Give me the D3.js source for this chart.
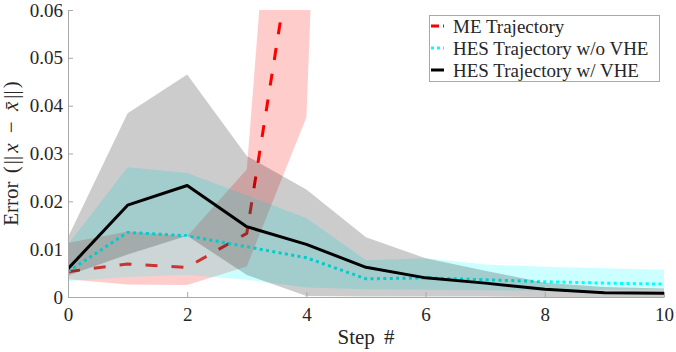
<!DOCTYPE html>
<html>
<head>
<meta charset="utf-8">
<script src="https://cdn.jsdelivr.net/npm/d3@7"></script>
</head>
<body style="margin:0">
<script>
// ---------- data ----------
const steps = [0, 1, 2, 3, 4, 5, 6, 7, 8, 9, 10];
const meSteps = [0, 1, 2, 3, 4, 5];
const meMean  = [0.0053, 0.0069, 0.0062, 0.0133, 0.092, 0.5];
const meLower = [0.0037, 0.0026, 0.0025, 0.0064, 0.0376, 0.36];
const meUpper = [0.0113, 0.0137, 0.0127, 0.0267, 0.186, 0.8];

const woMean  = [0.0053, 0.0135, 0.0128, 0.0105, 0.0082, 0.0038, 0.0040, 0.0036, 0.0032, 0.0029, 0.0027];
const woLower = [0.0033, 0.0042, 0.0046, 0.0036, 0.0020, 0.0016, 0.0015, 0.0014, 0.0013, 0.0015, 0.0016];
const woUpper = [0.0110, 0.0271, 0.0259, 0.0212, 0.0165, 0.0077, 0.0081, 0.0068, 0.0063, 0.0060, 0.0057];

const wMean  = [0.0059, 0.0192, 0.0233, 0.0147, 0.0110, 0.0062, 0.0040, 0.0029, 0.0016, 0.0009, 0.0008];
const wLower = [0.0045, 0.0089, 0.0128, 0.0046, 0.0002, 0.0001, 0.0001, 0.0001, 0.0000, 0.0000, 0.0000];
const wUpper = [0.0125, 0.0384, 0.0465, 0.0295, 0.0225, 0.0125, 0.0081, 0.0055, 0.0030, 0.0021, 0.0018];

const xTicks = [0, 2, 4, 6, 8, 10];
const yTicks = [0, 0.01, 0.02, 0.03, 0.04, 0.05, 0.06];
const seriesNames = ["ME Trajectory", "HES Trajectory w/o VHE", "HES Trajectory w/ VHE"];

// ---------- layout ----------
const W = 676, H = 352;
const L = 68, R = 664, T = 10, B = 297;
const FONT = '"Liberation Serif"';
const TXT = "#262626";

const svg = d3.select("body").append("svg").attr("width", W).attr("height", H);
const x = d3.scaleLinear().domain([0, 10]).range([L, R]);
const y = d3.scaleLinear().domain([0, 0.06]).range([B, T]);

svg.append("defs").append("clipPath").attr("id", "clip")
  .append("rect").attr("x", L).attr("y", T).attr("width", R - L).attr("height", B - T);

const plot = svg.append("g").attr("clip-path", "url(#clip)");

function band(xs, lo, hi, color) {
  const data = xs.map((s, i) => [s, lo[i], hi[i]]);
  plot.append("path").datum(data)
    .attr("d", d3.area().x(d => x(d[0])).y0(d => y(d[1])).y1(d => y(d[2])))
    .attr("fill", color).attr("fill-opacity", 0.2).attr("stroke", "none");
}
function line(xs, vals, color, dash) {
  const data = xs.map((s, i) => [s, vals[i]]);
  const p = plot.append("path").datum(data)
    .attr("d", d3.line().x(d => x(d[0])).y(d => y(d[1])))
    .attr("fill", "none").attr("stroke", color).attr("stroke-width", 3)
    .attr("stroke-linejoin", "round");
  if (dash) p.attr("stroke-dasharray", dash);
  return p;
}

band(meSteps, meLower, meUpper, "#ff0000");
line(meSteps, meMean, "#ff0000", "12,14");
band(steps, woLower, woUpper, "#00ffff");
line(steps, woMean, "#00ffff", "3,3.4");
band(steps, wLower, wUpper, "#000000");
line(steps, wMean, "#000000", null);

// ---------- axes ----------
const axisColor = "#a8a8a8";
const xAxis = svg.append("g").attr("transform", `translate(0,${B})`)
  .call(d3.axisBottom(x).tickValues(xTicks).tickSize(-5).tickSizeOuter(0).tickPadding(11).tickFormat(d3.format("d")));
const yAxis = svg.append("g").attr("transform", `translate(${L},0)`)
  .call(d3.axisLeft(y).tickValues(yTicks).tickSize(-5).tickSizeOuter(0).tickPadding(5)
    .tickFormat(d => d === 0 ? "0" : d3.format(".2f")(d)));
[xAxis, yAxis].forEach(g => {
  g.attr("font-family", null).attr("font-size", null);
  g.selectAll("path.domain").attr("stroke", axisColor).attr("stroke-width", 1);
  g.selectAll(".tick line").attr("stroke", axisColor);
  g.selectAll(".tick text").style("font-family", FONT).attr("font-size", 19).attr("fill", TXT);
});
xAxis.selectAll(".tick text").attr("dy", "0.71em");

svg.append("text").attr("x", (L + R) / 2).attr("y", 344).attr("text-anchor", "middle")
  .style("font-family", FONT).attr("font-size", 21).attr("fill", TXT)
  .attr("word-spacing", 4).text("Step #");

const yl = svg.append("text").attr("transform", `translate(18,${(T + B) / 2}) rotate(-90)`)
  .attr("text-anchor", "middle")
  .style("font-family", FONT).attr("font-size", 21).attr("fill", TXT);
const ylParts = [
  { t: "Error", it: false, dx: 0 },
  { t: " (", it: false, dx: 3 },
  { t: "||", it: false, dx: 2 },
  { t: "x", it: true, dx: 3 },
  { t: " − ", it: false, dx: 5 },
  { t: "x\u0304", it: true, dx: 5 },
  { t: "||", it: false, dx: 3 },
  { t: ")", it: false, dx: 2 }
];
ylParts.forEach(p => {
  const ts = yl.append("tspan").attr("dx", p.dx).text(p.t);
  if (p.it) ts.style("font-style", "italic");
});

// ---------- legend ----------
const lg = svg.append("g");
lg.append("rect").attr("x", 429.5).attr("y", 15.5).attr("width", 230).attr("height", 66)
  .attr("fill", "#fff").attr("stroke", "#a8a8a8").attr("stroke-width", 1);
const legendStyles = [
  { color: "#ff0000", dash: "8,4" },
  { color: "#00ffff", dash: "3,3" },
  { color: "#000000", dash: null }
];
const rowY = [26, 48, 70];
seriesNames.forEach((name, i) => {
  const ln = lg.append("line").attr("x1", 431).attr("x2", 444).attr("y1", rowY[i]).attr("y2", rowY[i])
    .attr("stroke", legendStyles[i].color).attr("stroke-width", 3);
  if (legendStyles[i].dash) ln.attr("stroke-dasharray", legendStyles[i].dash);
  lg.append("text").attr("x", 453).attr("y", rowY[i]).attr("dy", "0.35em")
    .style("font-family", FONT).attr("font-size", 19).attr("fill", TXT).text(name);
});
</script>
</body>
</html>
